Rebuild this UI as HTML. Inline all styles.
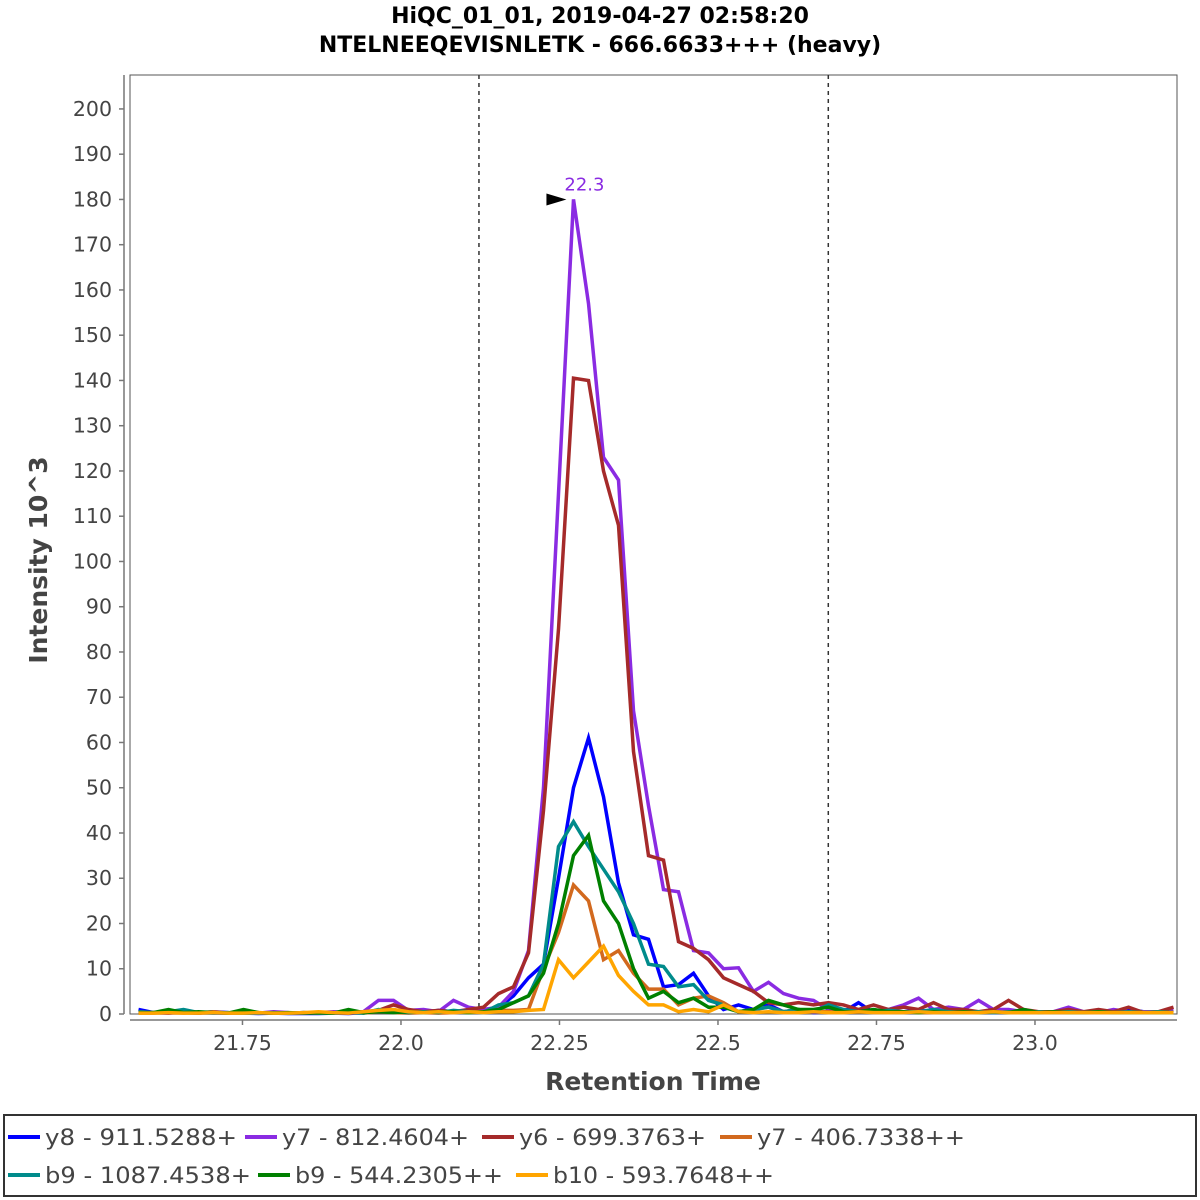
<!DOCTYPE html>
<html><head><meta charset="utf-8"><style>
html,body{margin:0;padding:0;background:#fff;}
svg{display:block;font-family:"DejaVu Sans","Liberation Sans",sans-serif;}
</style></head><body>
<svg id="chart" width="1200" height="1200" viewBox="0 0 1200 1200">
<rect x="0" y="0" width="1200" height="1200" fill="#fff"/>
<text x="600" y="23" text-anchor="middle" font-size="22" font-weight="bold">HiQC_01_01, 2019-04-27 02:58:20</text>
<text x="600" y="52" text-anchor="middle" font-size="22" font-weight="bold">NTELNEEQEVISNLETK - 666.6633+++ (heavy)</text>
<rect x="130" y="75" width="1047" height="939" fill="#fff" stroke="#555" stroke-width="1"/>
<g id="grid"></g>
<g id="series"></g>
<g id="axes"></g>
<text x="0" y="0" transform="translate(47,560) rotate(-90)" text-anchor="middle" font-size="25" font-weight="bold" fill="#444">Intensity 10^3</text>
<text x="653" y="1090" text-anchor="middle" font-size="25" font-weight="bold" fill="#444">Retention Time</text>
<g id="legend">
<rect x="4" y="1115" width="1192" height="81" fill="#fff" stroke="#333" stroke-width="2"/>
</g>
</svg>
<script>
const times=[];
const yTicks=[0,10,20,30,40,50,60,70,80,90,100,110,120,130,140,150,160,170,180,190,200];
const xTicks=[21.75,22.0,22.25,22.5,22.75,23.0];
const xTickLabels=["21.75","22.0","22.25","22.5","22.75","23.0"];
const boundaries=[22.123,22.674];
const peakTime=22.272, peakValue=180, peakLabel="22.3";
const timeStart=21.586, timeStep=0.02366;
for(let i=0;i<70;i++) times.push(+(timeStart+i*timeStep).toFixed(4));
const seriesNames=["y8 - 911.5288+","y7 - 812.4604+","y6 - 699.3763+","y7 - 406.7338++","b9 - 1087.4538+","b9 - 544.2305++","b10 - 593.7648++"];
const seriesColors=["#0000FF","#8A2BE2","#A52A2A","#D2691E","#008B8B","#008000","#FFA500"];
const y8=[1,0.3,0.5,0.3,0.2,0.5,0.3,0.2,0.1,0.2,0.1,0.1,0.1,0.2,0.1,0.3,0.5,0.3,0.5,0.3,0.8,0.5,0.8,0.5,1.5,4,8,11,30,50,61,48,29,17.5,16.5,6,6.5,9,4,1,2,1,2,0.5,1,0.3,0.5,0.5,2.5,0.3,0.5,0.5,0.8,0.5,1,0.3,0.5,0.3,0.5,0.3,0.5,0.3,0.5,0.3,0.5,0.3,1,0.5,0.5,0.5];
const y7a=[0.5,0.3,0.2,0.5,0.3,0.2,0.2,0.3,0.2,0.5,0.3,0.2,0.3,0.5,0.3,0.5,3,3,0.8,1,0.5,3,1.5,1,1.5,5,14,50,115,180,157,123,118,67,46,27.5,27,14,13.5,10,10.2,5,7,4.5,3.5,3,1,0.5,1,0.5,1,2,3.5,1,1.5,1,3,1,1,0.5,0.5,0.5,1.5,0.5,0.3,1,0.5,0.5,0.5,0.8];
const y6=[0.3,0.3,0.2,0.3,0.2,0.3,0.2,0.5,0.2,0.3,0.2,0.3,0.2,0.3,0.2,0.5,0.8,2,1,0.5,0.8,0.5,1,1.5,4.5,6,13.5,45,85,140.5,140,120,108,58,35,34,16,14.5,12,8,6.5,5,2.5,2,2.5,2,2.5,2,1,2,1,1.5,1,2.5,1,1,0.5,1,3,1,0.5,0.5,1,0.5,1,0.5,1.5,0.3,0.5,1.5];
const y7b=[0.2,0.2,0.3,0.2,0.3,0.5,0.2,0.2,0.3,0.2,0.2,0.3,0.2,0.2,0.3,0.2,0.5,0.3,0.2,0.3,0.2,0.3,0.5,0.5,0.8,0.8,1,10,18,28.5,25,12,14,9,5.5,5.5,2,3.5,4,2.5,0.5,1,1.5,0.5,1,0.5,0.5,0.3,0.5,0.5,0.3,0.5,0.3,0.3,0.5,0.3,0.3,0.5,0.3,0.3,0.3,0.3,0.5,0.3,0.3,0.3,0.3,0.3,0.3,0.3];
const b9a=[0.5,0.3,0.5,1,0.3,0.2,0.3,0.2,0.2,0.3,0.2,0.3,0.2,0.2,0.3,0.2,1,0.5,0.3,0.5,0.3,0.8,0.5,0.3,2,2.5,4,11,37,42.5,37,32,27,20,11,10.5,6,6.5,3,2,0.5,1,1.5,0.5,1,0.5,2,1,0.5,0.5,0.8,0.5,0.5,1,0.5,0.3,0.5,0.3,0.5,0.3,0.5,0.3,0.5,0.3,0.5,0.3,0.5,0.3,0.5,0.3];
const b9b=[0.3,0.3,1,0.3,0.5,0.3,0.2,1,0.3,0.2,0.3,0.2,0.3,0.2,1,0.3,0.5,0.3,0.5,0.3,0.5,0.5,0.3,0.5,1,2.5,4,9,20,35,39.5,25,20,10,3.5,5,2.5,3.5,1.5,1.5,0.5,1,3,2,1,1,1.5,0.5,0.5,1,0.5,0.5,0.3,0.5,0.3,0.5,0.3,0.5,0.3,1,0.3,0.5,0.3,0.3,0.5,0.3,0.3,0.3,0.3,0.3];
const b10=[0.2,0.2,0.3,0.2,0.2,0.3,0.2,0.2,0.3,0.2,0.2,0.3,0.5,0.3,0.2,0.5,0.8,1,0.5,0.3,0.5,0.3,0.5,0.3,0.5,0.5,0.8,1,12,8,11.5,15,8.5,5,2,2,0.5,1,0.5,2,0.5,0.3,0.5,0.3,0.3,0.5,0.3,0.3,0.5,0.3,0.3,0.3,0.5,0.3,0.3,0.3,0.3,0.5,0.3,0.3,0.3,0.3,0.3,0.3,0.3,0.3,0.3,0.3,0.3,0.3];
const seriesValues=[y8,y7a,y6,y7b,b9a,b9b,b10];

const PL=130,PR=1177,PT=75,PB=1014;
const xMin=21.5726,xMax=23.224,yMin=0,yMax=207.5;
const xs=t=>PL+(t-xMin)/(xMax-xMin)*(PR-PL);
const ys=v=>PB-(v-yMin)/(yMax-yMin)*(PB-PT);
const NS="http://www.w3.org/2000/svg";
function mk(tag,attrs,parent,txt){const e=document.createElementNS(NS,tag);for(const k in attrs)e.setAttribute(k,attrs[k]);if(txt!==undefined)e.textContent=txt;parent.appendChild(e);return e;}
const svg=document.getElementById('chart');
const axes=document.getElementById('axes');
const grid=document.getElementById('grid');
const yl=mk('line',{x1:124,y1:PT,x2:124,y2:PB,stroke:'#777','stroke-width':1.5},axes);


yTicks.forEach(v=>{
  const y=ys(v);
  const tk=mk('line',{x1:119,y1:y,x2:124,y2:y,stroke:'#777','stroke-width':1.5},axes);
  
  
  const tl=mk('text',{x:112,y:y+7,'text-anchor':'end','font-size':20.5,fill:'#444'},axes,String(v));
  
  
});
const xl=mk('line',{x1:PL,y1:1020,x2:PR,y2:1020,stroke:'#777','stroke-width':1.5},axes);


xTicks.forEach((t,i)=>{
  const x=xs(t);
  const tk=mk('line',{x1:x,y1:1020,x2:x,y2:1025,stroke:'#777','stroke-width':1.5},axes);
  
  
  const tl=mk('text',{x:x,y:1050,'text-anchor':'middle','font-size':20.5,fill:'#444'},axes,xTickLabels[i]);
  
  
});
boundaries.forEach(t=>{
  const b=mk('line',{x1:xs(t),y1:PT,x2:xs(t),y2:PB,stroke:'#333','stroke-width':1.5,'stroke-dasharray':'4,4'},grid);
  
  
});
const sg=document.getElementById('series');
seriesValues.forEach((vals,si)=>{
  const pts=vals.map((v,i)=>xs(times[i]).toFixed(1)+','+ys(v).toFixed(1)).join(' ');
  const pl=mk('polyline',{points:pts,fill:'none',stroke:seriesColors[si],'stroke-width':3.5,'stroke-linejoin':'miter'},sg);
  
  
});
const cov=mk('rect',{x:PR+1,y:PT,width:30,height:PB-PT+2,fill:'#fff'},sg);


const px=xs(peakTime),py=ys(peakValue);
const ar=mk('polygon',{points:`${px-27},${py-6} ${px-7},${py} ${px-27},${py+6}`,fill:'#000'},svg);


const pt=mk('text',{x:px+11,y:py-9,'text-anchor':'middle','font-size':18,fill:'#8A2BE2'},svg,peakLabel);


const lg=document.getElementById('legend');
const legPos=[[8,1137,192],[245,1137,187],[482,1137,187],[720,1137,208],[8,1175,206],[258,1175,208],[516,1175,221]];
seriesNames.forEach((n,i)=>{
  const [x,y,w]=legPos[i];
  const sw=mk('line',{x1:x,y1:y,x2:x+32,y2:y,stroke:seriesColors[i],'stroke-width':4},lg);
  
  
  const t=mk('text',{x:x+37,y:y+8,'font-size':22,fill:'#444',textLength:w,lengthAdjust:'spacingAndGlyphs'},lg,n);
  
  
});
</script>
</body></html>
